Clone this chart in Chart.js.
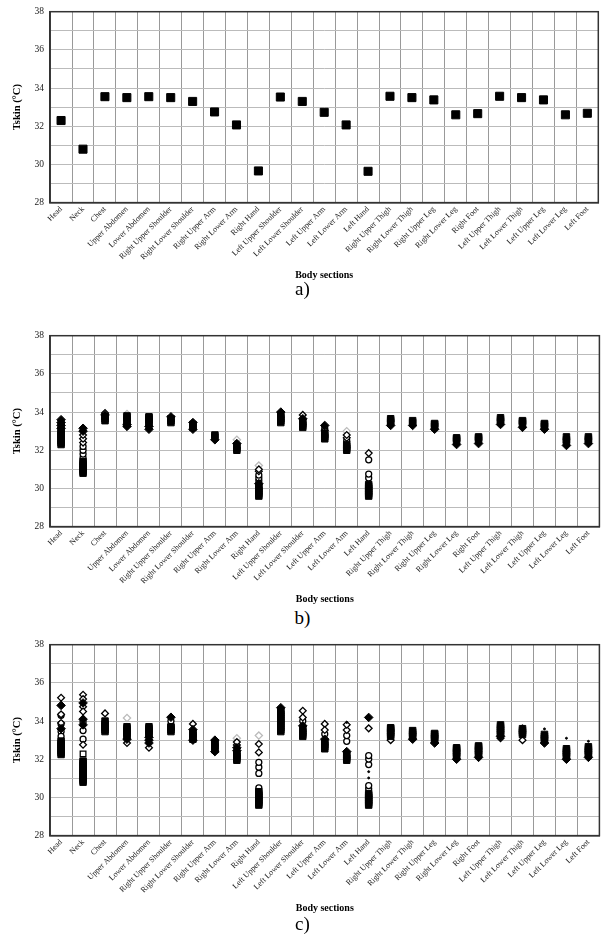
<!DOCTYPE html>
<html lang="en">
  <head>
    <meta charset="UTF-8" />
    <title>Tskin by body section</title>
    <script src="https://cdn.jsdelivr.net/npm/chart.js"></script>
    <style>
      body { margin: 0; background: #fff; width: 605px; height: 942px; position: relative; overflow: hidden; }
      .panel { position: absolute; left: 0; width: 605px; height: 282px; }
      .cap { position: absolute; width: 605px; text-align: center; font: 19px "Liberation Serif", serif; color: #000; }
    </style>
  </head>
  <body>
    <div class="panel" style="top: 0px"><canvas id="chartA" width="605" height="282"></canvas></div>
    <div class="cap" style="top: 278px">a)</div>
    <div class="panel" style="top: 324px"><canvas id="chartB" width="605" height="282"></canvas></div>
    <div class="cap" style="top: 607px">b)</div>
    <div class="panel" style="top: 633px"><canvas id="chartC" width="605" height="282"></canvas></div>
    <div class="cap" style="top: 913px">c)</div>

    <script>
      const sections = ["Head", "Neck", "Chest", "Upper Abdomen", "Lower Abdomen",
        "Right Upper Shoulder", "Right Lower Shoulder", "Right Upper Arm", "Right Lower Arm", "Right Hand",
        "Left Upper Shoulder", "Left Lower Shoulder", "Left Upper Arm", "Left Lower Arm", "Left Hand",
        "Right Upper Thigh", "Right Lower Thigh", "Right Upper Leg", "Right Lower Leg", "Right Foot",
        "Left Upper Thigh", "Left Lower Thigh", "Left Upper Leg", "Left Lower Leg", "Left Foot"];

      // a) mean values
      const aMean = [32.3, 30.8, 33.55, 33.5, 33.55, 33.5, 33.3, 32.75, 32.07, 29.66,
        33.53, 33.3, 32.73, 32.07, 29.64, 33.57, 33.5, 33.38, 32.6, 32.66,
        33.57, 33.5, 33.38, 32.6, 32.68];

      // b) values, one list per body section
      const bSquares = [
        [32.3, 32.4, 32.5, 32.6, 32.7, 32.8, 32.9, 33.0], [30.8, 30.9, 31.0, 31.1, 31.2, 31.3, 31.4],
        [33.55, 33.65, 33.75], [33.5, 33.6, 33.7, 33.8], [33.4, 33.5, 33.6, 33.7, 33.75],
        [33.45, 33.55, 33.65], [33.2, 33.3, 33.35], [32.7, 32.8], [32.0, 32.1, 32.2],
        [29.6, 29.7, 29.8, 29.9, 30.0, 30.1], [33.45, 33.55, 33.65, 33.75, 33.85],
        [33.2, 33.3, 33.4, 33.5], [32.6, 32.7, 32.8, 32.9], [32.0, 32.1, 32.2, 32.3],
        [29.6, 29.7, 29.8, 29.9, 30.0, 30.1, 30.2], [33.45, 33.55, 33.65], [33.45, 33.55],
        [33.25, 33.35, 33.4], [32.5, 32.6, 32.65], [32.55, 32.65, 32.7],
        [33.5, 33.6, 33.7], [33.4, 33.5, 33.55], [33.25, 33.35, 33.4], [32.45, 32.55, 32.7], [32.5, 32.6, 32.7]];
      const bFilledDiamonds = [
        [33.15, 33.3, 33.45, 33.6], [33.0, 33.15], [33.85], [33.35, 33.25], [33.25, 33.1],
        [33.75], [33.45, 33.1], [32.55], [32.35], [30.25], [34.0], [33.65], [33.3], [], [],
        [33.3], [33.3], [33.1], [32.3], [32.35], [33.35], [33.2], [33.1], [32.25], [32.35]];
      const bOpenDiamonds = [
        [], [32.4, 32.6, 32.8], [33.95], [], [], [], [], [], [], [30.9, 31.0], [], [33.85], [33.05], [32.65, 32.8],
        [31.85], [], [], [], [], [], [], [], [], [], []];
      const bCircles = [
        [33.2, 33.4], [31.6, 31.8, 32.0, 32.2], [], [], [], [], [], [], [], [30.4, 30.55, 30.7], [], [], [33.15], [32.5],
        [30.55, 30.75, 31.5], [], [], [], [], [], [], [], [], [], []];
      const bLight = [
        [], [], [], [33.9], [], [], [], [], [32.55], [31.2], [], [], [], [33.0], [], [], [], [], [], [], [], [], [], [], []];

      // c) values, one list per body section
      const cSquares = [
        [32.25, 32.35, 32.45, 32.55, 32.65, 32.75, 32.85, 32.95],
        [30.8, 30.9, 31.0, 31.1, 31.2, 31.3, 31.4, 31.5, 31.6, 31.7, 31.8, 31.9],
        [33.45, 33.55, 33.65, 33.75, 33.85, 34.0], [33.2, 33.3, 33.4, 33.5, 33.6, 33.7],
        [33.3, 33.4, 33.5, 33.6, 33.7], [33.45, 33.55, 33.65, 33.7], [33.05, 33.15, 33.25, 33.35, 33.4],
        [32.5, 32.6, 32.7, 32.8, 32.85], [31.95, 32.05, 32.15, 32.25, 32.3],
        [29.6, 29.7, 29.8, 29.9, 30.0, 30.1, 30.2, 30.3],
        [33.45, 33.55, 33.65, 33.75, 33.85, 33.95, 34.05, 34.15, 34.25, 34.35, 34.45, 34.55],
        [33.2, 33.3, 33.4, 33.5, 33.6], [32.55, 32.65, 32.75, 32.85, 32.9], [31.95, 32.05, 32.15, 32.25],
        [29.6, 29.7, 29.8, 29.9, 30.0, 30.1, 30.2], [33.2, 33.3, 33.4, 33.5, 33.6, 33.65],
        [33.2, 33.3, 33.4, 33.5], [33.0, 33.1, 33.2, 33.3, 33.35], [32.15, 32.25, 32.35, 32.45, 32.55, 32.6],
        [32.25, 32.35, 32.45, 32.55, 32.65, 32.7], [33.3, 33.4, 33.5, 33.6, 33.7, 33.8],
        [33.3, 33.4, 33.5, 33.6], [33.0, 33.1, 33.2, 33.3], [32.15, 32.25, 32.35, 32.45, 32.55],
        [32.25, 32.35, 32.45, 32.55, 32.65]];
      const cFilledDiamonds = [
        [34.82, 33.6], [34.95, 34.1, 33.8], [], [33.05], [33.15, 33.0, 32.85], [34.2], [33.55, 33.0],
        [33.0, 32.4], [32.45, 32.6], [], [34.7], [33.75], [33.05], [32.4], [34.19],
        [], [33.05], [32.85], [32.0], [32.1], [33.2], [], [32.85], [32.0], [32.1]];
      const cOpenDiamonds = [
        [35.22, 34.35, 33.9], [35.38, 35.15, 34.75, 34.5, 32.76], [34.4], [32.85], [32.6], [], [33.85],
        [], [32.75, 32.9], [32.36, 32.8], [], [34.54, 34.19], [33.85, 33.53], [33.53, 33.81], [33.62],
        [33.0], [], [], [], [], [33.1], [33.0], [], [], []];
      const cCircles = [
        [34.3, 33.85, 33.45, 33.2], [33.95, 33.5, 33.05], [], [], [], [34.0], [], [], [], [30.5, 31.26, 31.58, 31.84],
        [], [34.0], [33.32], [32.94, 33.24], [30.45, 30.62, 31.72, 32.01, 32.19],
        [], [], [], [], [], [], [], [], [], []];
      const cOpenSquares = [
        [], [32.28], [], [], [], [], [], [], [], [], [], [], [], [], [], [], [], [], [], [], [], [], [], [], []];
      const cLight = [
        [], [], [], [34.16], [], [], [], [], [33.1], [33.24], [], [], [], [], [], [], [], [], [], [], [], [], [], [], []];
      const cDots = [
        [], [], [], [], [], [], [], [], [], [], [], [], [], [33.93], [31.02, 31.35],
        [], [], [], [], [], [], [33.75], [33.59], [33.1], [32.94]];

      const serif = "'Liberation Serif', 'Times New Roman', serif";

      // one {x: section, y: value} point per listed value
      function pts(lists) {
        const out = [];
        lists.forEach((vals, i) => vals.forEach((v) => out.push({ x: sections[i], y: v })));
        return out;
      }

      const frame = {
        id: "frame",
        afterDraw(chart) {
          const a = chart.chartArea, ctx = chart.ctx;
          ctx.save();
          ctx.strokeStyle = "#333";
          ctx.lineWidth = 1.5;
          ctx.strokeRect(a.left, a.top, a.right - a.left, a.bottom - a.top);
          ctx.restore();
        },
      };

      function ds(data, style, radius, fill, border, bw) {
        return {
          data: data, showLine: false, pointStyle: style, pointRadius: radius, pointHoverRadius: radius,
          pointBackgroundColor: fill, pointBorderColor: border, pointBorderWidth: bw,
        };
      }

      function makeChart(id, datasets) {
        return new Chart(document.getElementById(id).getContext("2d"), {
          type: "line",
          data: { labels: sections, datasets: datasets },
          plugins: [frame],
          options: {
            responsive: false,
            animation: false,
            layout: { padding: { left: 7, right: -4, top: 6, bottom: 1 } },
            plugins: { legend: { display: false }, tooltip: { enabled: false } },
            scales: {
              x: {
                type: "category",
                offset: true,
                grid: { offset: true, color: "#999", lineWidth: 1, drawTicks: false },
                border: { color: "#333", width: 1.5 },
                ticks: {
                  autoSkip: false, maxRotation: 45, minRotation: 45, padding: 2,
                  color: "#222", font: { family: serif, size: 8 },
                },
                title: {
                  display: true, text: "Body sections", color: "#000", padding: { top: 5, bottom: 0 },
                  font: { family: serif, size: 10, weight: "bold" },
                },
              },
              y: {
                min: 28, max: 38,
                grid: { color: "#bbb", lineWidth: 1, drawTicks: false },
                border: { color: "#333", width: 1.5 },
                ticks: {
                  stepSize: 1, padding: 6, color: "#222", font: { family: serif, size: 9.5 },
                  callback: (v) => (v % 2 === 0 ? v : ""),
                },
                title: {
                  display: true, text: "Tskin (°C)", color: "#000", padding: { bottom: 5 },
                  font: { family: serif, size: 10.5, weight: "bold" },
                },
              },
            },
          },
        });
      }

      makeChart("chartA", [ds(pts(aMean.map((v) => [v])), "rect", 5.7, "#000", "#000", 1)]);

      makeChart("chartB", [
        ds(pts(bSquares), "rect", 4.6, "#000", "#000", 1),
        ds(pts(bFilledDiamonds), "rectRot", 4.3, "#000", "#000", 1),
        ds(pts(bOpenDiamonds), "rectRot", 3.4, "#fff", "#000", 1.3),
        ds(pts(bCircles), "circle", 3, "#fff", "#000", 1.3),
        ds(pts(bLight), "rectRot", 3.6, "#fff", "#bbb", 1.3),
      ]);

      makeChart("chartC", [
        ds(pts(cSquares), "rect", 4.6, "#000", "#000", 1),
        ds(pts(cFilledDiamonds), "rectRot", 4.3, "#000", "#000", 1),
        ds(pts(cDots), "circle", 1, "#000", "#000", 1),
        ds(pts(cOpenSquares), "rect", 4, "#fff", "#000", 1.3),
        ds(pts(cOpenDiamonds), "rectRot", 3.4, "#fff", "#000", 1.3),
        ds(pts(cCircles), "circle", 3, "#fff", "#000", 1.3),
        ds(pts(cLight), "rectRot", 3.6, "#fff", "#bbb", 1.3),
      ]);
    </script>
  </body>
</html>
